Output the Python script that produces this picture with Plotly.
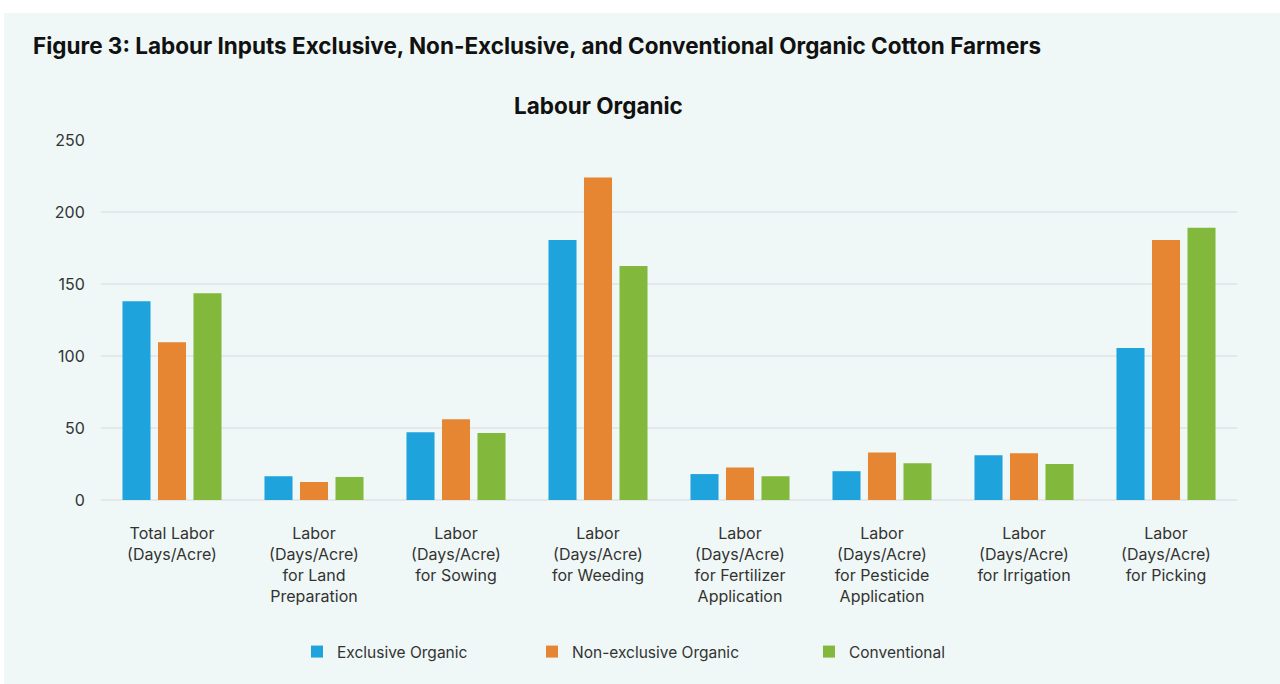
import plotly.graph_objects as go

categories = [
    "Total Labor<br>(Days/Acre)",
    "Labor<br>(Days/Acre)<br>for Land<br>Preparation",
    "Labor<br>(Days/Acre)<br>for Sowing",
    "Labor<br>(Days/Acre)<br>for Weeding",
    "Labor<br>(Days/Acre)<br>for Fertilizer<br>Application",
    "Labor<br>(Days/Acre)<br>for Pesticide<br>Application",
    "Labor<br>(Days/Acre)<br>for Irrigation",
    "Labor<br>(Days/Acre)<br>for Picking",
]
exclusive = [138, 16.5, 47, 180.5, 18, 20, 31, 105.5]
non_exclusive = [109.5, 12.5, 56, 224, 22.5, 33, 32.5, 180.5]
conventional = [143.5, 16, 46.5, 162.5, 16.5, 25.5, 25, 189]

series_names = ["Exclusive Organic", "Non-exclusive Organic", "Conventional"]
colors = ["#1ea3dc", "#e68632", "#82b83c"]

FONT = "Inter"
fig = go.Figure()
legends = ["legend", "legend2", "legend3"]
for name, vals, col, lg in zip(series_names, [exclusive, non_exclusive, conventional], colors, legends):
    fig.add_trace(go.Bar(x=categories, y=vals, name=name, marker=dict(color=col, line=dict(width=0)),
                         legend=lg))

W, H = 1280, 684
L, R, T, B = 101, 43, 140, 184
pw, ph = W - L - R, H - T - B

def px(x):
    return (x - L) / pw

def py(y):
    return (H - B - y) / ph

legend_common = dict(orientation="h", yanchor="middle", xanchor="left", bgcolor="rgba(0,0,0,0)",
                     font=dict(family=FONT, size=15.5, color="#333333"))

fig.update_layout(
    width=W, height=H,
    margin=dict(l=L, r=R, t=T, b=B, pad=0),
    paper_bgcolor="white",
    plot_bgcolor="rgba(0,0,0,0)",
    barmode="group", bargap=0.25, bargroupgap=0.21,
    font=dict(family=FONT, size=15, color="#333333"),
    title=dict(text="<b>Figure 3: Labour Inputs Exclusive, Non-Exclusive, and Conventional Organic Cotton Farmers</b>",
               xref="container", yref="container", x=33 / W, y=1 - 46 / H,
               xanchor="left", yanchor="middle", font=dict(family=FONT, size=22.5, color="#111111")),
    showlegend=True,
    legend=dict(x=px(310 - 13), y=py(652), **legend_common),
    legend2=dict(x=px(545 - 13), y=py(652), **legend_common),
    legend3=dict(x=px(822 - 13), y=py(652), **legend_common),
    xaxis=dict(showgrid=False, showline=False, zeroline=False, ticks="outside", ticklen=19,
               tickcolor="rgba(0,0,0,0)", tickfont=dict(family=FONT, size=16, color="#333333")),
    yaxis=dict(range=[0, 250], tickvals=[0, 50, 100, 150, 200, 250], showgrid=True,
               gridcolor="#e5e8ea", gridwidth=1.5, zeroline=True, zerolinecolor="#e5e8ea",
               zerolinewidth=1.5, showline=False, ticks="outside", ticklen=12,
               tickcolor="rgba(0,0,0,0)", tickfont=dict(family=FONT, size=16, color="#333333")),
    shapes=[dict(type="rect", xref="paper", yref="paper", layer="below",
                 x0=px(4), x1=px(1282), y0=py(686), y1=py(13),
                 fillcolor="#eff8f6", line=dict(width=0))],
    annotations=[dict(text="<b>Labour Organic</b>", xref="paper", yref="paper", x=px(598), y=py(106),
                      xanchor="center", yanchor="middle", showarrow=False,
                      font=dict(family=FONT, size=22.5, color="#111111"))],
)

fig.write_html("out.html", config={"displayModeBar": False},
               post_script="document.body.style.margin='0';")
